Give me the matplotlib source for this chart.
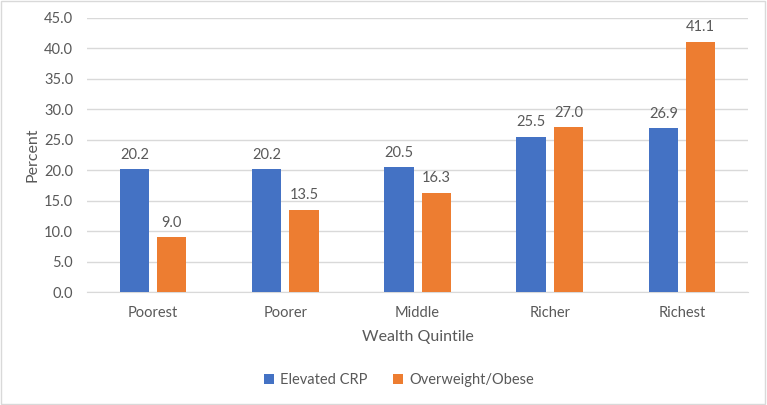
import matplotlib.pyplot as plt
import numpy as np

# data
quintiles = ['Poorest', 'Poorer', 'Middle', 'Richer', 'Richest']
crp = [20.2, 20.2, 20.5, 25.5, 26.9]
obese = [9.0, 13.5, 16.3, 27.0, 41.1]

blue = '#4472C4'
orange = '#ED7D31'
grey = '#595959'

plt.rcParams['font.family'] = ['Lato', 'DejaVu Sans']

fig = plt.figure(figsize=(7.67, 4.05), dpi=100)
ax = fig.add_axes([0.1134, 0.279, 0.862, 0.677])

x = np.arange(len(quintiles))
w = 0.222
off = 0.141
b1 = ax.bar(x - off, crp, w, color=blue, label='Elevated CRP', zorder=3)
b2 = ax.bar(x + off, obese, w, color=orange, label='Overweight/Obese', zorder=3)

for bars in (b1, b2):
    for r in bars:
        ax.text(r.get_x() + r.get_width() / 2, r.get_height() + 1.2, f'{r.get_height():.1f}',
                ha='center', va='bottom', fontsize=10.5, color=grey)

ax.set_xlim(-0.5, 4.5)
ax.set_ylim(0, 45)
ax.set_yticks(np.arange(0, 46, 5))
ax.set_yticklabels([f'{v:.1f}' for v in np.arange(0, 46, 5)])
ax.set_xticks(x)
ax.set_xticklabels(quintiles)
ax.tick_params(axis='both', length=0, labelsize=10.5, labelcolor=grey)
ax.tick_params(axis='x', pad=10)
ax.tick_params(axis='y', pad=10)
ax.grid(axis='y', color='#D9D9D9', linewidth=1, zorder=0)
for s in ['top', 'right', 'left']:
    ax.spines[s].set_visible(False)
ax.spines['bottom'].set_color('#D9D9D9')

ax.set_xlabel('Wealth Quintile', fontsize=11.5, color=grey, labelpad=7)
ax.set_ylabel('Percent', fontsize=11.5, color=grey, labelpad=3)

fig.legend(loc='center', bbox_to_anchor=(0.52, 25 / 405), ncol=2, frameon=False,
           fontsize=10.5, labelcolor=grey, handlelength=0.7, handleheight=0.7,
           columnspacing=1.8, handletextpad=0.4)

fig.patches.append(plt.Rectangle((0.001, 0.002), 0.997, 0.996, transform=fig.transFigure,
                                 fill=False, edgecolor='#D9D9D9', linewidth=1))

fig.savefig('out.png', dpi=100)
